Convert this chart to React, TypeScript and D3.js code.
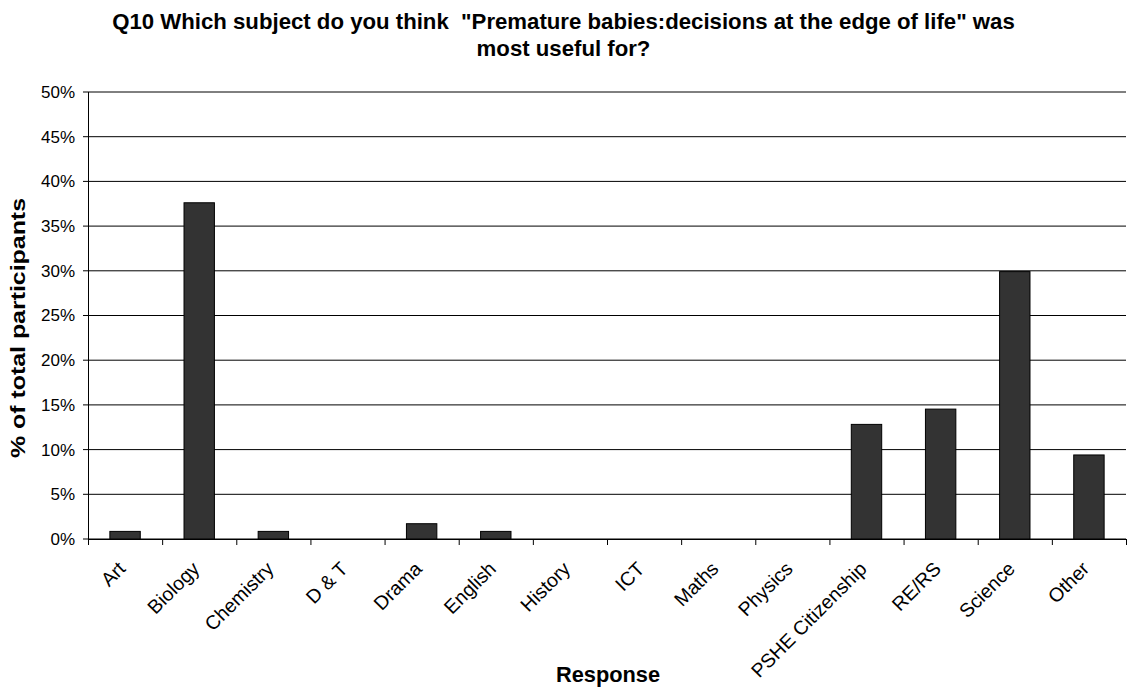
import React from "react";
import * as d3 from "d3";

// Survey responses, as percentages of all participants
const categories: string[] = [
  "Art", "Biology", "Chemistry", "D & T", "Drama", "English", "History",
  "ICT", "Maths", "Physics", "PSHE Citizenship", "RE/RS", "Science", "Other",
];
const percentages: number[] = [
  0.85, 37.61, 0.85, 0, 1.71, 0.85, 0, 0, 0, 0, 12.82, 14.53, 29.91, 9.4,
];
const yTicks: number[] = [0, 5, 10, 15, 20, 25, 30, 35, 40, 45, 50];

const titleLines: string[] = [
  'Q10 Which subject do you think  "Premature babies:decisions at the edge of life" was',
  "most useful for?",
];
const xTitle = "Response";
const yTitle = "% of total participants";

const W = 1127;
const H = 687;
const FONT = "'Liberation Sans', Arial, Helvetica, sans-serif";

export default function App() {
  const left = 88;
  const right = 1126;
  const top = 92;
  const bottom = 539;

  const x = d3.scaleBand<string>().domain(categories).range([left, right]).padding(0);
  const y = d3.scaleLinear().domain([0, 50]).range([bottom, top]);
  const barW = x.bandwidth() * 0.41;

  const boundaries = categories.map((c) => x(c) as number).concat([right]);

  return (
    <svg
      width={W}
      height={H}
      style={{ position: "absolute", left: 0, top: 0, background: "#fff" }}
      fontFamily={FONT}
    >
      <rect x={0} y={0} width={W} height={H} fill="#fff" />

      {/* title */}
      {titleLines.map((t, i) => (
        <text
          key={i}
          x={W / 2}
          y={28.5 + i * 27}
          textAnchor="middle"
          fontWeight="bold"
          fontSize={22.2}
          style={{ whiteSpace: "pre" }}
        >
          {t}
        </text>
      ))}

      {/* gridlines */}
      {yTicks.map((t) => (
        <line key={t} x1={left} x2={right} y1={y(t)} y2={y(t)} stroke="#000" strokeWidth={1} />
      ))}

      {/* bars */}
      {categories.map((c, i) =>
        percentages[i] > 0 ? (
          <rect
            key={c}
            x={(x(c) as number) + (x.bandwidth() - barW) / 2}
            y={y(percentages[i])}
            width={barW}
            height={bottom - y(percentages[i])}
            fill="#333333"
            stroke="#000"
            strokeWidth={1}
          />
        ) : null
      )}

      {/* y axis */}
      <line x1={left + 0.5} x2={left + 0.5} y1={top} y2={bottom} stroke="#000" />
      {yTicks.map((t) => (
        <g key={t}>
          <line x1={left - 5} x2={left} y1={y(t)} y2={y(t)} stroke="#000" />
          <text x={75} y={y(t)} dy="0.35em" textAnchor="end" fontSize={17} fill="#000">
            {`${t}%`}
          </text>
        </g>
      ))}

      {/* x axis */}
      <line x1={left} x2={right} y1={bottom + 0.5} y2={bottom + 0.5} stroke="#000" />
      {boundaries.map((b, i) => (
        <line key={i} x1={b + 0.5} x2={b + 0.5} y1={bottom} y2={bottom + 6} stroke="#000" />
      ))}
      {categories.map((c) => {
        const cx = (x(c) as number) + x.bandwidth() / 2;
        return (
          <text
            key={c}
            transform={`translate(${cx + 1.5},${570}) rotate(-45)`}
            textAnchor="end"
            fontSize={19.5}
            fill="#000"
          >
            {c}
          </text>
        );
      })}

      {/* axis titles */}
      <text x={(left + right) / 2 + 1} y={682} textAnchor="middle" fontWeight="bold" fontSize={21.8}>
        {xTitle}
      </text>
      <text
        transform={`translate(25,${328}) rotate(-90)`}
        textAnchor="middle"
        fontWeight="bold"
        fontSize={21}
        textLength={260}
        lengthAdjust="spacingAndGlyphs"
      >
        {yTitle}
      </text>
    </svg>
  );
}
